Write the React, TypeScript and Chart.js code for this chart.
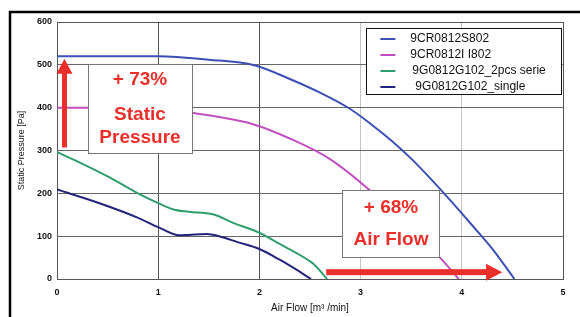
import React, { useEffect, useRef } from 'react';
import { Chart, registerables } from 'chart.js';

Chart.register(...registerables);

// ---- Data (Air flow [m³/min] vs static pressure [Pa]) ----
const seriesLabels = ['9CR0812S802', '9CR0812I I802', '9G0812G102_2pcs serie', '9G0812G102_single'];

const s802Flow = [0, 0.5, 1.0, 1.5, 1.95, 2.3, 2.6, 2.89, 3.1, 3.3, 3.5, 3.7, 3.9, 4.1, 4.3, 4.52];
const s802Pres = [520, 520, 520, 512, 499, 467, 435, 398, 362, 324, 281, 232, 180, 126, 71, 0];

const i802Flow = [0, 0.5, 1.0, 1.33, 1.6, 1.93, 2.3, 2.69, 3.09, 3.4, 3.78, 3.97];
const i802Pres = [400, 400, 398, 388, 378, 362, 328, 281, 207, 137, 51, 0];

const serieFlow = [0, 0.18, 0.52, 0.8, 1.0, 1.14, 1.3, 1.54, 1.74, 2.0, 2.2, 2.4, 2.53, 2.67];
const seriePres = [296, 277, 237, 200, 177, 163, 157, 151, 131, 108, 82, 56, 36, 0];

const singleFlow = [0, 0.42, 0.79, 1.0, 1.21, 1.3, 1.48, 1.6, 1.8, 2.0, 2.2, 2.35, 2.51];
const singlePres = [209, 177, 144, 121, 102, 103, 105, 100, 85, 70, 45, 24, 0];

const xTicks = [0, 1, 2, 3, 4, 5];
const yTicks = [0, 100, 200, 300, 400, 500, 600];

const seriesColors = ['#3b4fb5', '#c24fc0', '#2f9e6e', '#22237a'];

const annoPressure = ['+ 73%', 'Static', 'Pressure'];
const annoFlow = ['+ 68%', 'Air Flow'];

const FONT = '"Liberation Sans", Arial, sans-serif';
const RED = '#ea2f2a';

function pts(xs: number[], ys: number[]) {
  return xs.map((x, i) => ({ x, y: ys[i] }));
}

const overlayPlugin = {
  id: 'overlay',
  beforeDatasetsDraw(chart: any) {
    const { ctx, chartArea: a } = chart;
    ctx.save();
    ctx.strokeStyle = '#555';
    ctx.lineWidth = 1;
    ctx.strokeRect(a.left + 0.5, a.top + 0.5, a.right - a.left, a.bottom - a.top);
    ctx.restore();
  },
  afterDatasetsDraw(chart: any) {
    const { ctx } = chart;
    const xs = chart.scales.x;
    const ys = chart.scales.y;
    const X = (v: number) => xs.getPixelForValue(v);
    const Y = (v: number) => ys.getPixelForValue(v);
    ctx.save();

    // outer frame
    ctx.strokeStyle = '#000';
    ctx.lineWidth = 2.5;
    ctx.strokeRect(10, 12, 700, 400);

    // legend
    const lx0 = X(3.057), lx1 = X(4.98), ly0 = Y(586), ly1 = Y(433);
    ctx.fillStyle = '#fff';
    ctx.fillRect(lx0, ly0, lx1 - lx0, ly1 - ly0);
    ctx.strokeStyle = '#111';
    ctx.lineWidth = 1;
    ctx.strokeRect(Math.round(lx0) + 0.5, Math.round(ly0) + 0.5, Math.round(lx1 - lx0), Math.round(ly1 - ly0));
    const textOffsets = [0, 0, 2, 5];
    ctx.font = `12px ${FONT}`;
    ctx.textBaseline = 'middle';
    ctx.textAlign = 'left';
    seriesLabels.forEach((lab, i) => {
      const ry = ly0 + 11 + i * 16;
      ctx.strokeStyle = seriesColors[i];
      ctx.lineWidth = 2;
      ctx.beginPath();
      ctx.moveTo(lx0 + 14, ry);
      ctx.lineTo(lx0 + 29, ry);
      ctx.stroke();
      ctx.fillStyle = '#111';
      ctx.fillText(lab, lx0 + 44 + textOffsets[i], ry);
    });

    // annotation boxes
    const box = (x0: number, x1: number, y0: number, y1: number) => {
      const px0 = Math.round(X(x0)), px1 = Math.round(X(x1));
      const py0 = Math.round(Y(y0)), py1 = Math.round(Y(y1));
      ctx.fillStyle = '#fff';
      ctx.fillRect(px0, py0, px1 - px0, py1 - py0);
      ctx.strokeStyle = '#777';
      ctx.lineWidth = 1;
      ctx.strokeRect(px0 + 0.5, py0 + 0.5, px1 - px0, py1 - py0);
    };
    box(0.305, 1.33, 502, 295);
    box(2.82, 3.777, 207, 51);

    ctx.fillStyle = RED;
    ctx.font = `bold 19px ${FONT}`;
    ctx.textAlign = 'center';
    ctx.textBaseline = 'middle';
    const p1y = [465, 384, 330];
    annoPressure.forEach((t, i) => ctx.fillText(t, X(0.82), Y(p1y[i])));
    const p2y = [167, 91];
    annoFlow.forEach((t, i) => ctx.fillText(t, X(3.3), Y(p2y[i])));

    // arrows
    ctx.fillStyle = RED;
    // vertical
    const vx = X(0.074);
    const vTip = Y(514), vBase = Y(479), vTail = Y(307);
    ctx.fillRect(vx - 2.5, vBase - 1, 5, vTail - vBase + 1);
    ctx.beginPath();
    ctx.moveTo(vx, vTip);
    ctx.lineTo(vx - 8, vBase);
    ctx.lineTo(vx + 8, vBase);
    ctx.closePath();
    ctx.fill();
    // horizontal
    const hy = Y(16);
    const hTail = X(2.66), hBase = X(4.24), hTip = X(4.4);
    ctx.fillRect(hTail, hy - 3, hBase - hTail + 1, 6);
    ctx.beginPath();
    ctx.moveTo(hTip, hy);
    ctx.lineTo(hBase, hy - 8.5);
    ctx.lineTo(hBase, hy + 8.5);
    ctx.closePath();
    ctx.fill();

    ctx.restore();
  },
};

export default function App() {
  const ref = useRef<HTMLCanvasElement | null>(null);

  useEffect(() => {
    if (!ref.current) return;
    const flows = [s802Flow, i802Flow, serieFlow, singleFlow];
    const press = [s802Pres, i802Pres, seriePres, singlePres];
    const chart = new Chart(ref.current, {
      type: 'line',
      data: {
        datasets: seriesLabels.map((label, i) => ({
          label,
          data: pts(flows[i], press[i]),
          borderColor: seriesColors[i],
          backgroundColor: seriesColors[i],
          borderWidth: 2,
          pointRadius: 0,
          tension: 0.4,
          cubicInterpolationMode: 'monotone' as const,
          fill: false,
        })),
      },
      options: {
        responsive: false,
        animation: false,
        devicePixelRatio: 1,
        layout: { padding: { left: 0, top: 22, right: 17, bottom: 0 } },
        plugins: { legend: { display: false }, tooltip: { enabled: false } },
        scales: {
          x: {
            type: 'linear',
            min: xTicks[0],
            max: xTicks[xTicks.length - 1],
            afterBuildTicks: (s: any) => {
              s.ticks = xTicks.map((v) => ({ value: v }));
            },
            afterFit: (s: any) => {
              s.height = 38;
            },
            ticks: {
              padding: 8,
              color: '#111',
              font: { family: FONT, size: 9, weight: 'bold' },
            },
            grid: {
              drawTicks: false,
              color: (c: any) => (c.tick && c.tick.value >= 3 ? '#c4c4c4' : '#555'),
            },
            border: { display: false },
            title: {
              display: true,
              text: 'Air Flow [m³ /min]',
              color: '#111',
              font: { family: FONT, size: 10 },
              padding: { top: 0, bottom: 3 },
            },
          },
          y: {
            type: 'linear',
            min: yTicks[0],
            max: yTicks[yTicks.length - 1],
            afterBuildTicks: (s: any) => {
              s.ticks = yTicks.map((v) => ({ value: v }));
            },
            afterFit: (s: any) => {
              s.width = 57;
            },
            ticks: {
              padding: 5,
              color: '#111',
              font: { family: FONT, size: 9, weight: 'bold' },
            },
            grid: { drawTicks: false, color: '#666' },
            border: { display: false },
            title: {
              display: true,
              text: 'Static Pressure [Pa]',
              color: '#111',
              font: { family: FONT, size: 9 },
              padding: { top: 16, bottom: 0 },
            },
          },
        },
      },
      plugins: [overlayPlugin],
    } as any);
    return () => chart.destroy();
  }, []);

  return (
    <div style={{ position: 'fixed', left: 0, top: 0, width: 580, height: 317, background: '#fff' }}>
      <canvas ref={ref} width={580} height={317} style={{ display: 'block', width: 580, height: 317 }} />
    </div>
  );
}
